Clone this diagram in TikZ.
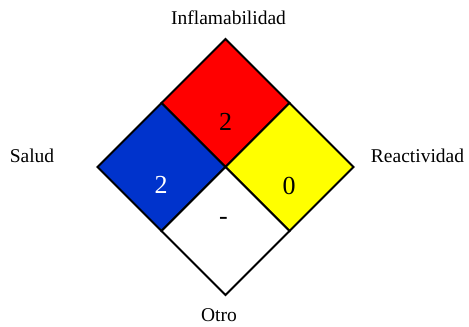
\documentclass[tikz,border=0pt]{standalone}
\usepackage{fontspec}
\setmainfont{Liberation Serif}
\usepackage{xcolor}
\definecolor{nfpared}{RGB}{255,0,0}
\definecolor{nfpablue}{RGB}{0,51,204}
\definecolor{nfpayellow}{RGB}{255,255,0}
\tikzset{
	cell/.style={draw=black, line width=2bp, line join=miter},
	sidelabel/.style={font=\fontsize{19.5bp}{21bp}\selectfont, anchor=base, inner sep=0pt},
	rating/.style={font=\fontsize{26bp}{28bp}\selectfont, anchor=base}
}

\begin{document}
\begin{tikzpicture}[x=1bp, y=-1bp]
			\useasboundingbox (0,0) rectangle (469,326);

			\coordinate (T) at (225.5,39);
			\coordinate (R) at (353.5,167);
			\coordinate (B) at (225.5,295);
			\coordinate (L) at (97.5,167);
			\coordinate (C) at (225.5,167);
			\coordinate (TL) at (161.5,103);
			\coordinate (TR) at (289.5,103);
			\coordinate (BL) at (161.5,231);
			\coordinate (BR) at (289.5,231);

			\filldraw[cell, fill=nfpared]		(T) -- (TR) -- (C) -- (TL) -- cycle;
			\filldraw[cell, fill=nfpablue]		(TL) -- (C) -- (BL) -- (L) -- cycle;
			\filldraw[cell, fill=nfpayellow]	(TR) -- (R) -- (BR) -- (C) -- cycle;
			\filldraw[cell, fill=white]		(C) -- (BR) -- (B) -- (BL) -- cycle;

			\node[rating] (flam) at (225.5,130.7) {2};
			\node[rating, white] (health) at (161,193.5) {2};
			\node[rating] (react) at (289,194.5) {0};
			\node[rating] (other) at (223.5,224) {-};

			\node[sidelabel] (flamtext) at (228.5,24) {Inflamabilidad};
			\node[sidelabel] (healthtext) at (32,162.7) {Salud};
			\node[sidelabel] (reacttext) at (417.5,162.7) {Reactividad};
			\node[sidelabel] (othertext) at (219,321.5) {Otro};
		\end{tikzpicture}
\end{document}
